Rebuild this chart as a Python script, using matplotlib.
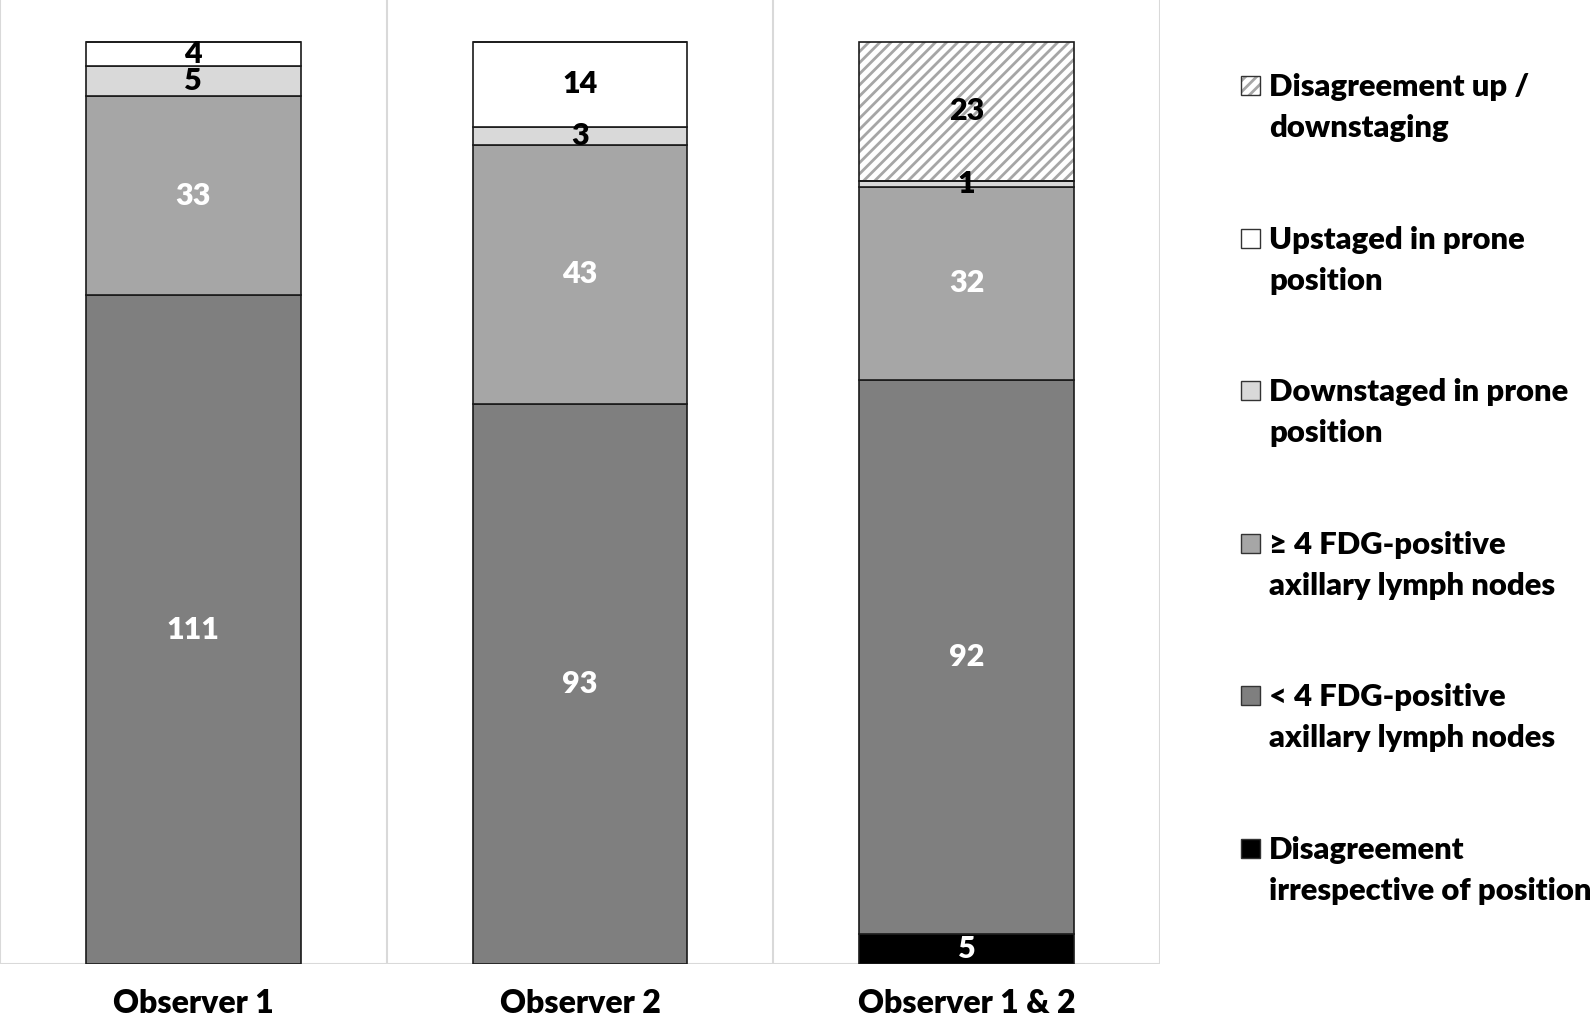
import matplotlib
matplotlib.use("Agg")
import matplotlib.pyplot as plt
from matplotlib.patches import Rectangle
import numpy as np

categories = ["Observer 1", "Observer 2", "Observer 1 & 2"]
# stacked from bottom to top
series_names = [
    "Disagreement\nirrespective of position",
    "< 4 FDG-positive\naxillary lymph nodes",
    "\u2265 4 FDG-positive\naxillary lymph nodes",
    "Downstaged in prone\nposition",
    "Upstaged in prone\nposition",
    "Disagreement up /\ndownstaging",
]
disagree_irresp = [0, 0, 5]
lt4_nodes = [111, 93, 92]
ge4_nodes = [33, 43, 32]
downstaged = [5, 3, 1]
upstaged = [4, 14, 0]
disagree_updown = [0, 0, 23]
series_values = [disagree_irresp, lt4_nodes, ge4_nodes, downstaged, upstaged, disagree_updown]
colors = ["#000000", "#7f7f7f", "#a6a6a6", "#d9d9d9", "#ffffff", "#ffffff"]
label_colors = ["white", "white", "white", "black", "black", "black"]

plt.rcParams["hatch.linewidth"] = 2.0
FONT = "Lato"
W, H = 1594, 1019
fig = plt.figure(figsize=(W / 100, H / 100), dpi=100)
ax_left, ax_right, ax_top, ax_bottom = 0, 1160, 0, 964
ax = fig.add_axes([ax_left / W, 1 - ax_bottom / H, (ax_right - ax_left) / W, (ax_bottom - ax_top) / H])

x = np.arange(len(categories))
bw = 0.555
bottom = np.zeros(len(categories))
for i, (name, vals) in enumerate(zip(series_names, series_values)):
    vals = np.array(vals, dtype=float)
    if i == 5:
        ax.bar(x, vals, bw, bottom=bottom, color="white", edgecolor="#a6a6a6",
               hatch="///", linewidth=0, zorder=2)
        ax.bar(x, vals, bw, bottom=bottom, fill=False, edgecolor="#1a1a1a",
               linewidth=1.2, zorder=3)
    else:
        ax.bar(x, vals, bw, bottom=bottom, color=colors[i], edgecolor="#1a1a1a",
               linewidth=1.2, zorder=3)
    for j, v in enumerate(vals):
        if v > 0:
            ax.text(x[j], bottom[j] + v / 2, f"{int(v)}", ha="center", va="center",
                    color=label_colors[i], fontsize=22, fontweight="heavy",
                    family=FONT, zorder=5)
    bottom += vals

ax.set_xlim(-0.5, len(categories) - 0.5)
ax.set_ylim(0, 160)
for b in np.arange(-0.5, len(categories), 1.0):
    ax.axvline(b, color="#d9d9d9", linewidth=1.5, zorder=1)
ax.axhline(0, color="#d9d9d9", linewidth=1.5, zorder=1)
for s in ax.spines.values():
    s.set_visible(False)
ax.set_yticks([])
ax.set_xticks(x)
ax.set_xticklabels(categories, fontsize=23, fontweight="heavy", family=FONT)
ax.tick_params(axis="x", length=0, pad=18)

# legend (manual, handle aligned with first line)
leg_names = series_names[::-1]
leg_colors = colors[::-1]
first_line_y = [85, 238, 390, 543, 695, 848]
for k, (nm, c) in enumerate(zip(leg_names, leg_colors)):
    yc = first_line_y[k]
    sz = 19
    r = Rectangle((1241 / W, 1 - (yc + sz / 2) / H), sz / W, sz / H,
                  transform=fig.transFigure, facecolor=c, edgecolor="#333333",
                  linewidth=1.0, hatch="///" if k == 0 else None)
    if k == 0:
        r.set_edgecolor("#a6a6a6")
        r.set_linewidth(0)
        fig.patches.append(r)
        r2 = Rectangle((1241 / W, 1 - (yc + sz / 2) / H), sz / W, sz / H,
                       transform=fig.transFigure, fill=False, edgecolor="#333333",
                       linewidth=1.0)
        fig.patches.append(r2)
    else:
        fig.patches.append(r)
    fig.text(1269 / W, 1 - (yc - 12) / H, nm, ha="left", va="top", fontsize=22.3,
             fontweight="heavy", family=FONT, linespacing=1.55)

fig.savefig("out.png", dpi=100, facecolor="white")
